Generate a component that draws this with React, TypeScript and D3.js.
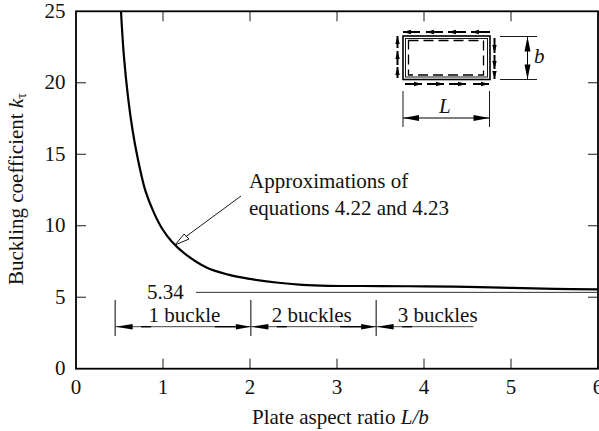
import React from "react";
import * as d3 from "d3";

const xTicks = [0, 1, 2, 3, 4, 5, 6];
const yTicks = [0, 5, 10, 15, 20, 25];
const curveX = [0.517, 0.55, 0.6, 0.65, 0.7, 0.8, 0.9, 1.0, 1.1, 1.25, 1.5, 1.75, 2.0, 2.3, 2.6, 2.9, 3.5, 4.0, 4.5, 5.0, 5.5, 6.0];
const curveK = [25, 21.9, 18.9, 16.7, 15.0, 12.4, 10.85, 9.7, 8.9, 8.05, 7.08, 6.58, 6.28, 6.03, 5.87, 5.8, 5.78, 5.76, 5.72, 5.65, 5.59, 5.55];
const asymptote = 5.34;
const bucketEdges = [0.45, 2.01, 3.45, 4.57];
const bucketLabels = ["1 buckle", "2 buckles", "3 buckles"];
const bucketLabelX = [1.247, 2.71, 4.157];
const annotationLines = ["Approximations of", "equations 4.22 and 4.23"];

const FONT = "'Liberation Serif', serif";
const FS = 21;
const W = 599, H = 431;
const x = d3.scaleLinear().domain([0, 6]).range([76, 598]);
const y = d3.scaleLinear().domain([0, 25]).range([368.7, 11.3]);

function Head({ x: px, y: py, dir, len = 15, w = 3 }: { x: number; y: number; dir: "l" | "r" | "u" | "d"; len?: number; w?: number }) {
  const pts: Record<string, number[][]> = {
    r: [[px, py], [px - len, py - w], [px - len, py + w]],
    l: [[px, py], [px + len, py - w], [px + len, py + w]],
    u: [[px, py], [px - w, py + len], [px + w, py + len]],
    d: [[px, py], [px - w, py - len], [px + w, py - len]],
  };
  return <polygon points={pts[dir].map((p) => p.join(",")).join(" ")} fill="#000" stroke="none" />;
}

const topDashes = [[403, 420], [426, 443], [448, 466], [471, 490]];
const bottomDashes = [[405, 422], [427, 444], [449, 466], [473, 489]];
const leftDashes = [[36, 48], [51, 65], [67, 78]];
const rightDashes = [[38, 53], [55, 69], [71, 79]];

function Inset() {
  return (
    <g stroke="#000" fill="none">
      <rect x={403} y={36} width={87} height={43.5} strokeWidth={1.6} />
      <rect x={405.5} y={38.5} width={82} height={38.5} strokeWidth={0.9} />
      <rect x={408.5} y={40.5} width={75} height={34.5} strokeWidth={1.3} strokeDasharray="10 5" />
      {topDashes.map(([a, b]) => (
        <g key={"t" + a}><line x1={a} x2={b} y1={32} y2={32} strokeWidth={2} /><Head x={a} y={32} dir="l" len={8} w={2.2} /></g>
      ))}
      {bottomDashes.map(([a, b]) => (
        <g key={"b" + a}><line x1={a} x2={b} y1={84} y2={84} strokeWidth={2} /><Head x={b} y={84} dir="r" len={8} w={2.2} /></g>
      ))}
      {leftDashes.map(([a, b]) => (
        <g key={"l" + a}><line x1={397.5} x2={397.5} y1={a} y2={b} strokeWidth={2} /><Head x={397.5} y={a} dir="u" len={8} w={2.2} /></g>
      ))}
      {rightDashes.map(([a, b]) => (
        <g key={"r" + a}><line x1={494.5} x2={494.5} y1={a} y2={b} strokeWidth={2} /><Head x={494.5} y={b} dir="d" len={8} w={2.2} /></g>
      ))}
      <line x1={500} x2={537} y1={36.5} y2={36.5} strokeWidth={0.9} />
      <line x1={500} x2={537} y1={79.5} y2={79.5} strokeWidth={0.9} />
      <line x1={527.5} x2={527.5} y1={37} y2={79} strokeWidth={1} />
      <Head x={527.5} y={36.5} dir="u" len={15} w={3} />
      <Head x={527.5} y={79.5} dir="d" len={15} w={3} />
      <line x1={403} x2={403} y1={91} y2={127} strokeWidth={0.9} />
      <line x1={489.5} x2={489.5} y1={91} y2={127} strokeWidth={0.9} />
      <line x1={403} x2={489.5} y1={118} y2={118} strokeWidth={1} />
      <Head x={403} y={118} dir="l" len={16} w={3} />
      <Head x={489.5} y={118} dir="r" len={16} w={3} />
    </g>
  );
}

export default function App() {
  const path = d3.line<number>().x((d) => x(d)).y((_, i) => y(curveK[i])).curve(d3.curveCatmullRom.alpha(0.5))(curveX)!;
  const barY = 326.7;
  return (
    <svg width={W} height={H} style={{ position: "absolute", left: 0, top: 0, background: "#fff" }} fontFamily={FONT} fill="#111">
      {xTicks.slice(1, -1).map((t) => (
        <g key={t} stroke="#000" strokeWidth={0.9}>
          <line x1={x(t)} x2={x(t)} y1={y(0)} y2={y(0) - 10} />
          <line x1={x(t)} x2={x(t)} y1={y(25)} y2={y(25) + 10} />
        </g>
      ))}
      {yTicks.slice(1, -1).map((t) => (
        <g key={t} stroke="#000" strokeWidth={0.9}>
          <line x1={x(0)} x2={x(0) + 10} y1={y(t)} y2={y(t)} />
          <line x1={x(6)} x2={x(6) - 10} y1={y(t)} y2={y(t)} />
        </g>
      ))}
      <rect x={x(0)} y={y(25)} width={x(6) - x(0)} height={y(0) - y(25)} fill="none" stroke="#000" strokeWidth={1.8} />
      {xTicks.map((t) => (
        <text key={t} x={x(t)} y={393.5} textAnchor="middle" fontSize={FS}>{t}</text>
      ))}
      {yTicks.map((t) => (
        <text key={t} x={65.5} y={y(t) + 6.5} textAnchor="end" fontSize={FS}>{t}</text>
      ))}
      <text x={252} y={424} fontSize={FS}>
        Plate aspect ratio <tspan fontStyle="italic">L/b</tspan>
      </text>
      <text transform="translate(23,285) rotate(-90)" fontSize={FS}>
        Buckling coefficient <tspan fontStyle="italic">k</tspan><tspan fontSize={14} dy={3}>τ</tspan>
      </text>

      <path d={path} fill="none" stroke="#000" strokeWidth={2.2} />

      <line x1={196} x2={x(6)} y1={y(asymptote)} y2={y(asymptote)} stroke="#333" strokeWidth={1} />
      <text x={147} y={299} fontSize={FS}>{asymptote.toFixed(2)}</text>

      <line x1={241} y1={196} x2={186} y2={236.5} stroke="#000" strokeWidth={0.9} />
      <polygon points="175,245 184,234 189,239" fill="#fff" stroke="#000" strokeWidth={0.9} />
      {annotationLines.map((s, i) => (
        <text key={s} x={249} y={188 + i * 27} fontSize={FS}>{s}</text>
      ))}

      {bucketEdges.slice(0, 3).map((e) => (
        <line key={e} x1={x(e)} x2={x(e)} y1={300} y2={336} stroke="#000" strokeWidth={1} />
      ))}
      <line x1={x(bucketEdges[0])} x2={x(bucketEdges[3])} y1={barY} y2={barY} stroke="#444" strokeWidth={1} />
      {bucketEdges.slice(0, 3).map((e, i) => (
        <g key={"h" + e}>
          <Head x={x(e) + 0.5} y={barY} dir="l" len={17} w={2.8} />
          <line x1={x(e) + 26} x2={x(e) + 36} y1={barY} y2={barY} stroke="#000" strokeWidth={1.4} />
          {i < 2 && <Head x={x(bucketEdges[i + 1])} y={barY} dir="r" len={15} w={2.8} />}
          {i < 2 && <line x1={x(bucketEdges[i + 1]) - 36} x2={x(bucketEdges[i + 1]) - 15} y1={barY} y2={barY} stroke="#000" strokeWidth={1.4} />}
        </g>
      ))}
      {bucketLabels.map((s, i) => (
        <text key={s} x={x(bucketLabelX[i])} y={321.5} textAnchor="middle" fontSize={FS}>{s}</text>
      ))}

      <Inset />
      <text x={534} y={63} fontSize={21} fontStyle="italic">b</text>
      <text x={439} y={113} fontSize={21} fontStyle="italic">L</text>
    </svg>
  );
}
